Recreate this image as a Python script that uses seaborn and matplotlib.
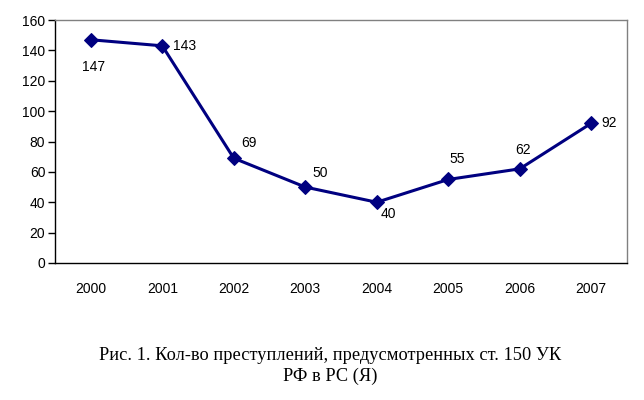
import matplotlib
matplotlib.use("Agg")
import matplotlib.pyplot as plt
import seaborn as sns
import pandas as pd
import numpy as np

years = ["2000", "2001", "2002", "2003", "2004", "2005", "2006", "2007"]
crimes = [147, 143, 69, 50, 40, 55, 62, 92]
yticks = [0, 20, 40, 60, 80, 100, 120, 140, 160]
caption = "Рис. 1. Кол-во преступлений, предусмотренных ст. 150 УК\nРФ в РС (Я)"

sns.set_style("white")
plt.rcParams["font.family"] = ["Liberation Sans", "DejaVu Sans"]
plt.rcParams["text.color"] = "black"
plt.rcParams["xtick.color"] = "black"
plt.rcParams["ytick.color"] = "black"

df = pd.DataFrame({"idx": np.arange(len(years)), "year": years, "value": crimes})

fig = plt.figure(figsize=(6.44, 4.0), dpi=100)
ax = fig.add_axes([55/644, 1-263/400, (627-55)/644, (263-20)/400])

navy = "#000080"
sns.lineplot(data=df, x="idx", y="value", ax=ax, color=navy, linewidth=2.2,
             marker="D", markersize=7, markeredgecolor=navy, markerfacecolor=navy)

# label offsets in pixels (style)
offsets = [(3, -27), (22, 0), (15, 15), (15, 14), (12, -12), (9, 20), (3, 19), (18, 0)]
for i, (v, off) in enumerate(zip(crimes, offsets)):
    ax.annotate(str(v), (i, v), xytext=off, textcoords="offset pixels",
                ha="center", va="center", fontsize=10, color="black")

ax.set_xlim(-0.5, len(years) - 0.5)
ax.set_ylim(0, 160)
ax.set_yticks(yticks)
ax.set_yticklabels([str(t) for t in yticks], fontsize=10)
ax.set_xticks(df["idx"])
ax.set_xticklabels(years, fontsize=10)
ax.set_xticks(np.arange(len(years) + 1) - 0.5, minor=True)
ax.tick_params(axis="x", which="major", length=0, pad=14)
ax.tick_params(axis="x", which="minor", length=5, width=1, color="black", direction="out")
ax.tick_params(axis="y", which="major", length=5, width=1, color="black", direction="out", pad=2, left=True)
ax.set_xlabel("")
ax.set_ylabel("")

for s in ["left", "bottom"]:
    ax.spines[s].set_color("black")
    ax.spines[s].set_linewidth(1)
for s in ["top", "right"]:
    ax.spines[s].set_color("#808080")
    ax.spines[s].set_linewidth(1)

fig.text(330/644, 1-366/400, caption, ha="center", va="center", fontsize=13.2,
         family=["Liberation Serif", "DejaVu Serif"], linespacing=1.35, color="black")

fig.savefig("out.png", dpi=100)
